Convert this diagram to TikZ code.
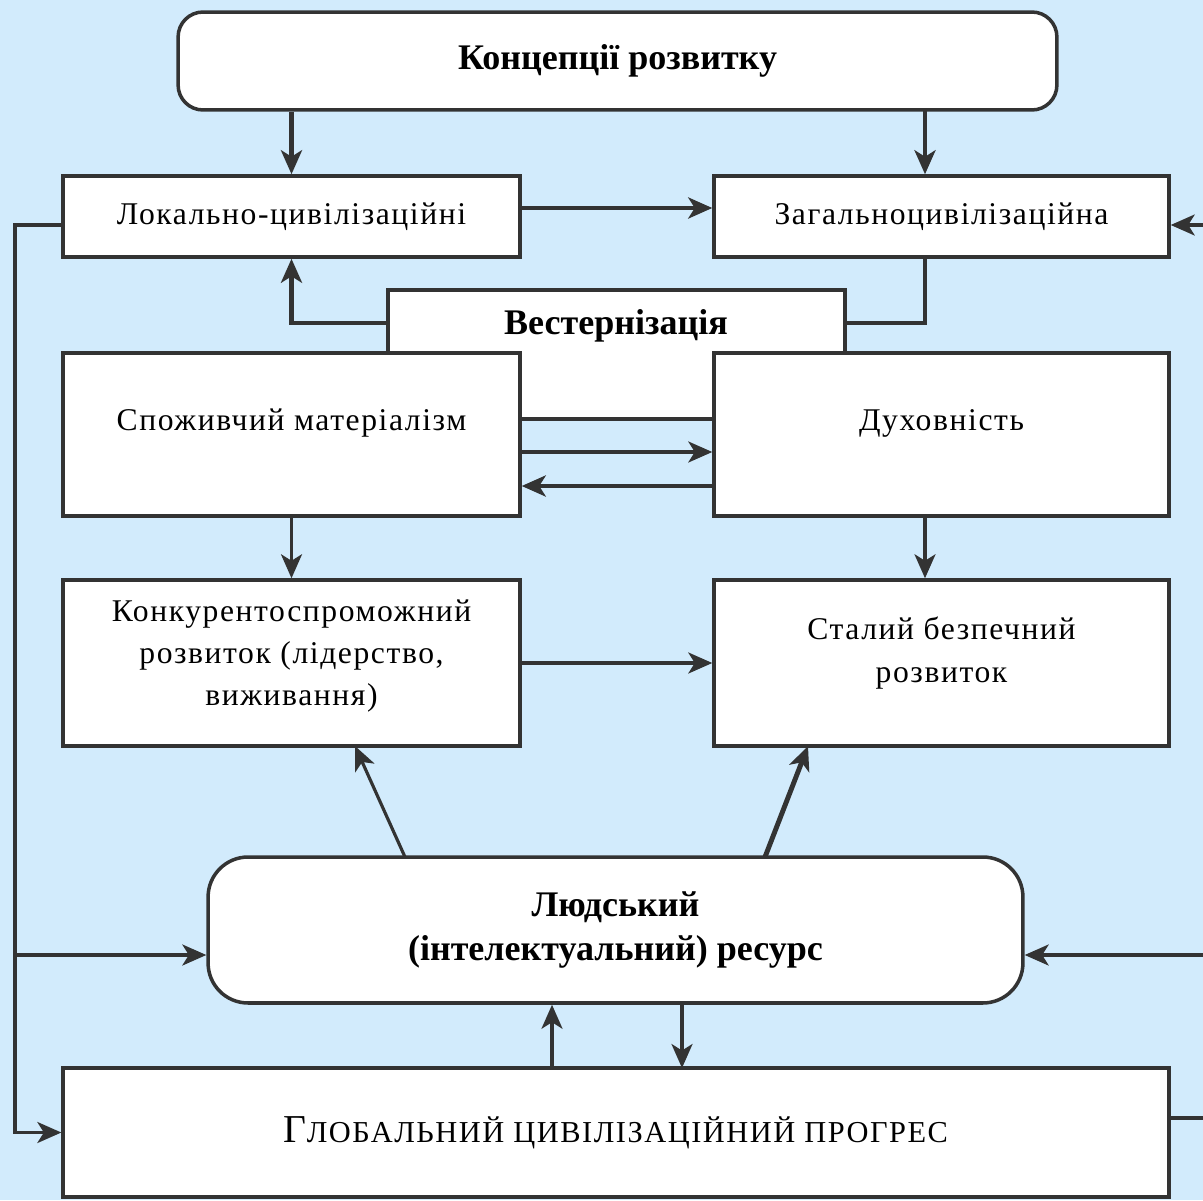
\documentclass[tikz,border=0pt]{standalone}
\usepackage{fontspec}
\setmainfont{Liberation Serif}
\newfontfamily\spacedserif[LetterSpace=5]{Liberation Serif}
\usetikzlibrary{arrows.meta, calc}

\definecolor{bgblue}{HTML}{D2EBFC}
\definecolor{linegray}{HTML}{333333}

\tikzset{
  box/.style={draw=linegray, line width=2pt, fill=white, inner sep=0pt},
  lbl/.style={align=center, font=\spacedserif\fontsize{18}{24}\selectfont},
  blbl/.style={align=center, font=\fontsize{20.5}{25}\selectfont\bfseries},
  ln/.style={draw=linegray, line width=1.8pt},
  thickln/.style={ln, line width=2.8pt},
  arr/.style={ln, -{Stealth[length=0.48cm, width=0.42cm, inset=0.13cm]}},
  arrthick/.style={arr, line width=2.8pt},
}

\begin{document}
\begin{tikzpicture}[x=0.02cm, y=-0.02cm]

% фон
\fill[bgblue] (0,0) rectangle (1203,1200);
\useasboundingbox (0,0) rectangle (1203,1200);
\clip (0,0) rectangle (1203,1200);

% Концепції розвитку
\node[box, rounded corners=0.5cm, minimum width=17.58cm, minimum height=1.96cm, blbl] (konc) at (617.5,61) {Концепції розвитку};

% два типи концепцій
\node[box, lbl, minimum width=9.14cm, minimum height=1.62cm] (lok) at (291.5,216.5) {Локально-цивілізаційні};
\node[box, lbl, minimum width=9.10cm, minimum height=1.62cm] (zag) at (941.5,216.5) {Загальноцивілізаційна};

% Вестернізація (виступ між блоками)
\filldraw[box, line width=2.8pt] (388,353) -- (388,290) -- (845,290) -- (845,353) -- (714,353) -- (714,419) -- (520,419) -- (520,353) -- cycle;
\node[blbl] (west) at (616,326) {Вестернізація};
\coordinate (wl) at (388,323);
\coordinate (wr) at (845,323);

% цінності
\node[box, minimum width=9.14cm, minimum height=3.26cm] (spoz) at (291.5,434.5) {};
\node[lbl] (spozt) at (291.5,423) {Споживчий матеріалізм};
\node[box, minimum width=9.10cm, minimum height=3.26cm] (duh) at (941.5,434.5) {};
\node[lbl] (duht) at (941.5,423) {Духовність};

% типи розвитку
\node[box, minimum width=9.14cm, minimum height=3.32cm] (konk) at (291.5,663) {};
\node[lbl] (konkt) at (291.5,656) {Конкурентоспроможний\\розвиток (лідерство,\\виживання)};
\node[box, minimum width=9.10cm, minimum height=3.32cm] (stal) at (941.5,663) {};
\node[lbl] (stalt) at (941.5,653) {Сталий безпечний\\розвиток};

% Людський ресурс
\node[box, rounded corners=0.8cm, minimum width=16.3cm, minimum height=2.92cm, blbl] (ludy) at (615.5,930) {Людський\\(інтелектуальний) ресурс};

% Глобальний прогрес
\node[box, minimum width=22.12cm, minimum height=2.58cm, lbl, font=\spacedserif\fontsize{17.3}{24}\selectfont] (glob) at (616,1132.5) {{\fontsize{22.5}{24}\selectfont Г}ЛОБАЛЬНИЙ ЦИВІЛІЗАЦІЙНИЙ ПРОГРЕС};

% від концепцій униз
\coordinate (k2) at (925,110);
\draw[arrthick] (konc.south -| lok.north) -- (lok.north);
\draw[arrthick] (k2) -- (k2 |- zag.north);
\draw[arrthick] ([yshift=0.17cm]lok.east) -- ([yshift=0.17cm]zag.west);

% через Вестернізацію
\draw[thickln] (k2 |- zag.south) |- (wr);
\draw[arrthick] (wl) -| (lok.south);

% між цінностями
\coordinate (a1) at (520,452);
\coordinate (a2) at (714,486);
\draw[arr] (a1) -- (a1 -| duh.west);
\draw[arrthick] (a2) -- (a2 -| spoz.east);

% до типів розвитку
\draw[arr] (spoz.south) -- (konk.north);
\draw[arr] (duh.south -| k2) -- (stal.north -| k2);
\draw[arr] (konk.east) -- (stal.west);

% від людського ресурсу
\coordinate (r1) at (405,857);
\coordinate (r2) at (765,857);
\coordinate (k1) at (355,746);
\coordinate (s1) at (808,746);
\draw[arr] (r1) -- (k1);
\draw[arrthick] (r2) -- (s1);

% ресурс і прогрес
\coordinate (g1) at (552,1068);
\coordinate (g2) at (682,1068);
\draw[arr] (g1) -- (g1 |- ludy.south);
\draw[arr] (g2 |- ludy.south) -- (g2);

% ліва лінія
\coordinate (lft) at (15,225);
\coordinate (ll) at (15,955);
\draw[arr] (lok.west |- lft) -- (lft) |- (glob.west);
\draw[arr] (ll) -- (ll -| ludy.west);

% права лінія
\coordinate (rz) at (1203,225);
\coordinate (rr) at (1203,955);
\coordinate (rg) at (1203,1118);
\draw[arr] (rz) -- (rz -| zag.east);
\draw[arr] (rr) -- (rr -| ludy.east);
\draw[ln] (rg -| glob.east) -- (rg);

\end{tikzpicture}
\end{document}
